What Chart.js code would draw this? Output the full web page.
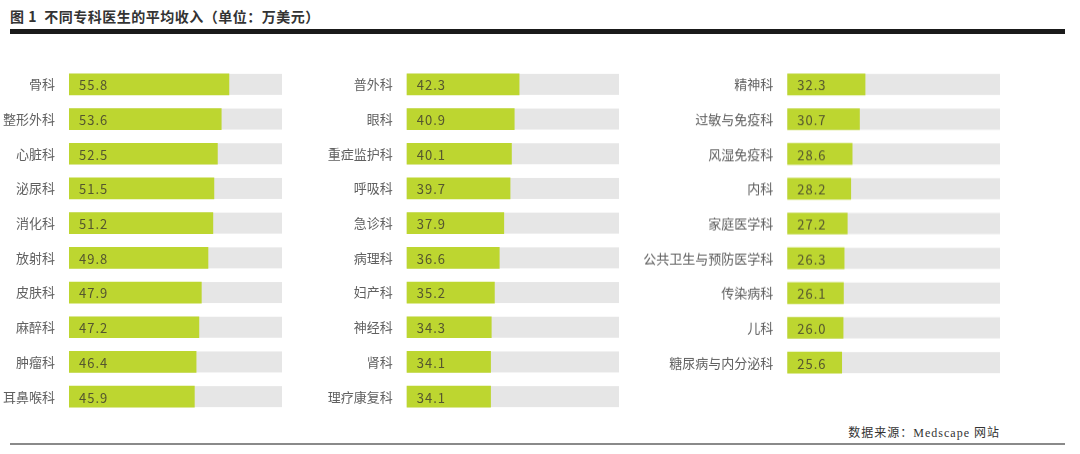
<!DOCTYPE html>
<html>
<head>
<meta charset="utf-8">
<script src="https://cdn.jsdelivr.net/npm/chart.js@4"></script>
<style>
  body { margin: 0; background: #fff; width: 1080px; height: 454px; position: relative; overflow: hidden;
         font-family: "Noto Sans CJK SC", "Noto Sans", sans-serif; }
  .title { position: absolute; left: 10px; top: 6px; font-size: 14px; font-weight: bold; color: #333; letter-spacing: 0.5px; }
  .rule-top { position: absolute; left: 10px; top: 29px; width: 1055px; height: 5px; background: #1a1a1a; }
  .rule-bottom { position: absolute; left: 10px; top: 443px; width: 1055px; height: 2px; background: #8a8a8a; }
  .source { position: absolute; right: 80px; top: 423px; font-size: 12px; color: #333;
            font-family: "Liberation Serif", "Noto Sans CJK SC", serif; letter-spacing: 1px; }
  canvas { position: absolute; }
</style>
</head>
<body>
<div class="title">图 1&nbsp;&nbsp;不同专科医生的平均收入（单位：万美元）</div>
<div class="rule-top"></div>
<canvas id="c1"></canvas>
<canvas id="c2"></canvas>
<canvas id="c3"></canvas>
<div class="source">数据来源：Medscape 网站</div>
<div class="rule-bottom"></div>
<script>
// data
const cats1 = ['骨科', '整形外科', '心脏科', '泌尿科', '消化科', '放射科', '皮肤科', '麻醉科', '肿瘤科', '耳鼻喉科'];
const vals1 = [55.8, 53.6, 52.5, 51.5, 51.2, 49.8, 47.9, 47.2, 46.4, 45.9];
const cats2 = ['普外科', '眼科', '重症监护科', '呼吸科', '急诊科', '病理科', '妇产科', '神经科', '肾科', '理疗康复科'];
const vals2 = [42.3, 40.9, 40.1, 39.7, 37.9, 36.6, 35.2, 34.3, 34.1, 34.1];
const cats3 = ['精神科', '过敏与免疫科', '风湿免疫科', '内科', '家庭医学科', '公共卫生与预防医学科', '传染病科', '儿科', '糖尿病与内分泌科'];
const vals3 = [32.3, 30.7, 28.6, 28.2, 27.2, 26.3, 26.1, 26.0, 25.6];
const axisMin = 10, axisMax = 71;

const rowH = 34.7;

// gray track behind every bar + value text inside
const trackPlugin = {
    id: 'track',
    beforeDatasetsDraw(chart) {
        const ctx = chart.ctx, area = chart.chartArea;
        ctx.save();
        ctx.fillStyle = '#e6e6e6';
        chart.getDatasetMeta(0).data.forEach(el => {
            ctx.fillRect(area.left, el.y - el.height / 2, area.right - area.left, el.height);
        });
        ctx.restore();
    },
    afterDatasetsDraw(chart) {
        const ctx = chart.ctx;
        const x0 = chart.scales.x.getPixelForValue(axisMin);
        const vals = chart.data.datasets[0].data;
        ctx.save();
        ctx.font = '13px "Noto Sans CJK SC", "Noto Sans", sans-serif';
        ctx.fillStyle = '#55562f';
        ctx.textBaseline = 'middle';
        ctx.letterSpacing = '1px';
        chart.getDatasetMeta(0).data.forEach((el, i) => {
            ctx.fillText(vals[i].toFixed(1), x0 + 10, el.y + 1);
        });
        ctx.restore();
    }
};

function drawColumn(id, cats, vals, left, width, labelW) {
    const cv = document.getElementById(id);
    const h = cats.length * rowH;
    cv.style.left = left + 'px';
    cv.style.top = '67.3px';
    cv.style.width = width + 'px';
    cv.style.height = h + 'px';
    cv.width = width;
    cv.height = h;
    new Chart(cv, {
        type: 'bar',
        data: {
            labels: cats,
            datasets: [{
                data: vals,
                backgroundColor: '#bdd630',
                barThickness: 21,
                borderWidth: 0
            }]
        },
        options: {
            indexAxis: 'y',
            responsive: false,
            animation: false,
            layout: { padding: 0 },
            plugins: { legend: { display: false }, tooltip: { enabled: false } },
            scales: {
                x: { display: false, min: axisMin, max: axisMax },
                y: {
                    grid: { display: false },
                    border: { display: false },
                    ticks: {
                        color: '#606060',
                        padding: 6,
                        font: { size: 13, family: '"Noto Sans CJK SC", "Noto Sans", sans-serif' }
                    },
                    afterFit(scale) {
                        scale.width = labelW;
                        scale.paddingTop = 0;
                        scale.paddingBottom = 0;
                    }
                }
            }
        },
        plugins: [trackPlugin]
    });
}

drawColumn('c1', cats1, vals1, 0, 282, 69);
drawColumn('c2', cats2, vals2, 290, 329, 116.7);
drawColumn('c3', cats3, vals3, 640, 360, 147.3);
</script>
</body>
</html>
